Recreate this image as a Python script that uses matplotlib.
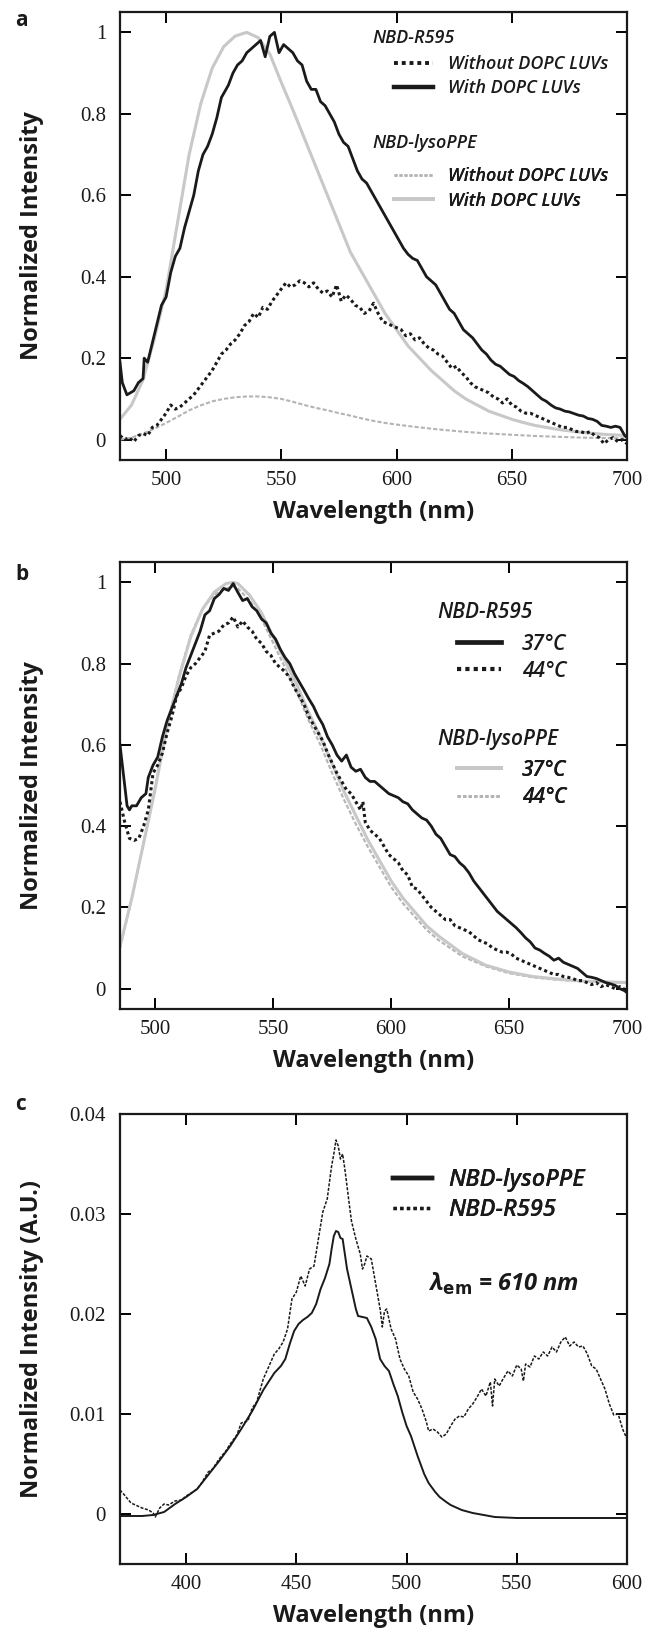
import numpy as np
import matplotlib
matplotlib.use("Agg")
import matplotlib.pyplot as plt
from matplotlib.ticker import MultipleLocator, FuncFormatter

# --- datos ---

# panel a: NBD-R595 con / sin LUVs de DOPC
wl_a_r595_with = [480, 481, 483, 486, 488, 490, 490.5, 492, 495, 498, 500, 502, 504, 506, 508, 510,
                  512, 514, 516, 518, 520, 522, 524, 525, 527, 529, 531, 533, 535, 537, 539, 541,
                  543, 545, 547, 549, 551, 553, 555, 557, 559, 561, 563, 565, 567, 569, 571, 573,
                  575, 577, 579, 581, 583, 585, 587, 589, 591, 593, 595, 597, 599, 601, 603, 605,
                  607, 609, 611, 613, 615, 617, 619, 621, 623, 625, 627, 629, 631, 633, 635, 637,
                  639, 641, 643, 645, 647, 649, 651, 653, 655, 657, 659, 661, 663, 665, 667, 669,
                  671, 673, 675, 677, 679, 681, 683, 685, 687, 689, 691, 693, 695, 697, 699, 700]
int_a_r595_with = [0.19, 0.14, 0.11, 0.12, 0.14, 0.15, 0.20, 0.19, 0.26, 0.33, 0.35, 0.41, 0.45, 0.47, 0.52, 0.56,
                   0.60, 0.66, 0.70, 0.72, 0.75, 0.79, 0.84, 0.85, 0.87, 0.90, 0.92, 0.93, 0.95, 0.96, 0.97, 0.98,
                   0.94, 0.99, 1.00, 0.95, 0.97, 0.96, 0.95, 0.93, 0.92, 0.88, 0.86, 0.86, 0.83, 0.82, 0.80, 0.78,
                   0.75, 0.73, 0.72, 0.69, 0.66, 0.64, 0.63, 0.61, 0.59, 0.57, 0.55, 0.53, 0.51, 0.49, 0.47, 0.455,
                   0.445, 0.44, 0.42, 0.40, 0.39, 0.38, 0.36, 0.34, 0.32, 0.31, 0.29, 0.27, 0.26, 0.25, 0.235, 0.22,
                   0.21, 0.195, 0.185, 0.18, 0.17, 0.16, 0.155, 0.145, 0.138, 0.13, 0.12, 0.11, 0.10, 0.094, 0.085, 0.078,
                   0.075, 0.07, 0.068, 0.064, 0.06, 0.058, 0.052, 0.05, 0.045, 0.035, 0.033, 0.03, 0.033, 0.03, 0.01, 0.005]

wl_a_r595_without = list(range(480, 701, 2))
int_a_r595_without = [0.01, 0.0, 0.005, -0.005, 0.01, 0.015, 0.01, 0.03, 0.035, 0.05,
                      0.065, 0.085, 0.075, 0.08, 0.09, 0.10, 0.11, 0.125, 0.14, 0.155,
                      0.17, 0.19, 0.21, 0.22, 0.235, 0.245, 0.26, 0.28, 0.29, 0.31,
                      0.30, 0.325, 0.32, 0.34, 0.355, 0.37, 0.385, 0.375, 0.38, 0.39,
                      0.385, 0.375, 0.385, 0.37, 0.36, 0.365, 0.35, 0.38, 0.34, 0.355,
                      0.345, 0.33, 0.325, 0.31, 0.315, 0.335, 0.31, 0.29, 0.285, 0.28,
                      0.275, 0.27, 0.255, 0.26, 0.245, 0.25, 0.235, 0.225, 0.22, 0.21,
                      0.205, 0.19, 0.175, 0.18, 0.165, 0.155, 0.14, 0.13, 0.125, 0.12,
                      0.115, 0.105, 0.10, 0.09, 0.10, 0.085, 0.08, 0.07, 0.065, 0.065,
                      0.06, 0.055, 0.05, 0.045, 0.04, 0.035, 0.03, 0.03, 0.025, 0.02,
                      0.02, 0.015, 0.02, 0.01, 0.005, -0.01, 0.0, 0.005, -0.005, 0.0, -0.01]

# panel a: NBD-lysoPPE
wl_a_lyso_with = [480, 485, 490, 495, 500, 505, 510, 515, 520, 525, 530, 535, 540, 545, 550, 555,
                  560, 565, 570, 575, 580, 585, 590, 595, 600, 605, 610, 615, 620, 625, 630, 635,
                  640, 645, 650, 655, 660, 670, 680, 690, 700]
int_a_lyso_with = [0.05, 0.085, 0.147, 0.25, 0.367, 0.534, 0.70, 0.824, 0.912, 0.965, 0.991, 1.0, 0.987, 0.947, 0.877, 0.81,
                   0.74, 0.67, 0.60, 0.53, 0.46, 0.41, 0.36, 0.31, 0.27, 0.23, 0.20, 0.17, 0.145, 0.12, 0.10, 0.085,
                   0.07, 0.06, 0.05, 0.042, 0.035, 0.025, 0.018, 0.013, 0.01]

wl_a_lyso_without = [480, 485, 490, 495, 500, 505, 510, 515, 520, 525, 530, 535, 540, 545, 550, 555,
                     560, 565, 570, 575, 580, 585, 590, 595, 600, 610, 620, 630, 640, 650, 660, 670,
                     680, 690, 700]
int_a_lyso_without = [0.0, 0.005, 0.015, 0.027, 0.041, 0.056, 0.072, 0.084, 0.094, 0.10, 0.104, 0.106, 0.106, 0.104, 0.10, 0.093,
                      0.085, 0.078, 0.072, 0.065, 0.059, 0.052, 0.046, 0.041, 0.037, 0.03, 0.024, 0.019, 0.015, 0.012, 0.009, 0.007,
                      0.005, 0.004, 0.003]

# panel b: 37 C / 44 C
wl_b_r595_37 = [485, 486, 487, 488, 489, 490, 492, 494, 496, 497, 499, 501, 503, 505, 507, 509,
                511, 513, 515, 517, 519, 521, 523, 525, 527, 529, 531, 533, 535, 537, 539, 541,
                543, 545, 547, 549, 551, 553, 555, 557, 559, 561, 563, 565, 567, 569, 571, 573,
                575, 577, 579, 581, 583, 585, 587, 589, 591, 593, 595, 597, 599, 601, 603, 605,
                607, 609, 611, 613, 615, 617, 619, 621, 623, 625, 627, 629, 631, 633, 635, 637,
                639, 641, 643, 645, 647, 649, 651, 653, 655, 657, 659, 661, 663, 665, 667, 669,
                671, 673, 675, 677, 679, 681, 683, 685, 687, 689, 691, 693, 695, 697, 699, 700]
int_b_r595_37 = [0.60, 0.55, 0.50, 0.45, 0.44, 0.45, 0.45, 0.47, 0.48, 0.52, 0.55, 0.57, 0.62, 0.66, 0.69, 0.72,
                 0.75, 0.79, 0.82, 0.85, 0.88, 0.92, 0.93, 0.96, 0.97, 0.985, 0.98, 0.997, 0.975, 0.955, 0.96, 0.94,
                 0.93, 0.91, 0.90, 0.875, 0.86, 0.835, 0.815, 0.80, 0.775, 0.755, 0.735, 0.714, 0.695, 0.67, 0.65, 0.62,
                 0.60, 0.575, 0.56, 0.575, 0.545, 0.535, 0.54, 0.52, 0.51, 0.51, 0.50, 0.49, 0.48, 0.475, 0.47, 0.46,
                 0.455, 0.44, 0.43, 0.42, 0.415, 0.40, 0.38, 0.37, 0.35, 0.33, 0.325, 0.31, 0.30, 0.285, 0.265, 0.25,
                 0.235, 0.22, 0.205, 0.19, 0.18, 0.17, 0.16, 0.15, 0.138, 0.125, 0.115, 0.10, 0.095, 0.087, 0.08, 0.07,
                 0.075, 0.065, 0.06, 0.055, 0.05, 0.04, 0.03, 0.028, 0.025, 0.02, 0.015, 0.012, 0.008, 0.0, -0.005, -0.01]

wl_b_r595_44 = [485, 487, 489, 491, 493, 495, 497, 499, 501, 503, 505, 507, 509, 511, 513, 515,
                517, 519, 521, 523, 525, 527, 529, 531, 533, 535, 537, 539, 541, 543, 545, 547,
                549, 551, 553, 555, 557, 559, 561, 563, 565, 567, 569, 571, 573, 575, 577, 579,
                581, 583, 585, 587, 588, 589, 591, 593, 595, 597, 599, 601, 603, 605, 607, 609,
                611, 613, 615, 617, 619, 621, 623, 625, 627, 629, 631, 633, 635, 637, 639, 641,
                643, 645, 647, 649, 651, 653, 655, 657, 659, 661, 663, 665, 667, 669, 671, 673,
                675, 677, 679, 681, 683, 685, 687, 689, 691, 693, 695, 697, 700]
int_b_r595_44 = [0.46, 0.41, 0.37, 0.365, 0.37, 0.40, 0.44, 0.53, 0.55, 0.58, 0.63, 0.67, 0.72, 0.74, 0.77, 0.79,
                 0.80, 0.815, 0.83, 0.87, 0.875, 0.88, 0.895, 0.90, 0.915, 0.89, 0.905, 0.89, 0.88, 0.86, 0.85, 0.83,
                 0.82, 0.80, 0.79, 0.78, 0.765, 0.74, 0.72, 0.70, 0.67, 0.65, 0.63, 0.61, 0.58, 0.555, 0.53, 0.51,
                 0.49, 0.48, 0.46, 0.44, 0.46, 0.41, 0.39, 0.38, 0.37, 0.35, 0.33, 0.32, 0.31, 0.29, 0.28, 0.25,
                 0.245, 0.23, 0.215, 0.20, 0.19, 0.18, 0.17, 0.17, 0.155, 0.15, 0.145, 0.14, 0.13, 0.12, 0.115, 0.11,
                 0.10, 0.095, 0.09, 0.09, 0.085, 0.075, 0.07, 0.065, 0.06, 0.055, 0.05, 0.045, 0.04, 0.035, 0.035, 0.03,
                 0.028, 0.025, 0.02, 0.02, 0.015, 0.01, 0.015, 0.005, 0.01, 0.005, 0.0, 0.005, -0.005]

wl_b_lyso = [485, 490, 495, 500, 505, 510, 515, 520, 525, 530, 533, 535, 540, 545, 550, 555,
             560, 565, 570, 575, 580, 585, 590, 595, 600, 605, 610, 615, 620, 630, 640, 650,
             660, 670, 680, 690, 700]
int_b_lyso_37 = [0.104, 0.223, 0.358, 0.494, 0.646, 0.765, 0.866, 0.934, 0.976, 0.997, 1.0, 0.997, 0.968, 0.925, 0.866, 0.807,
                 0.748, 0.68, 0.62, 0.553, 0.485, 0.426, 0.367, 0.316, 0.265, 0.223, 0.189, 0.155, 0.13, 0.087, 0.058, 0.041,
                 0.03, 0.024, 0.019, 0.017, 0.015]
int_b_lyso_44 = [0.10, 0.22, 0.36, 0.50, 0.65, 0.77, 0.87, 0.935, 0.97, 0.985, 0.99, 0.985, 0.955, 0.91, 0.85, 0.79,
                 0.73, 0.66, 0.60, 0.53, 0.465, 0.405, 0.35, 0.30, 0.25, 0.21, 0.177, 0.145, 0.12, 0.08, 0.055, 0.038,
                 0.028, 0.022, 0.018, 0.016, 0.014]

# panel c: excitacion, lambda_em = 610 nm
wl_c_lyso = [370, 375, 380, 385, 390, 395, 400, 405, 410, 415, 420, 425, 430, 435, 440, 443,
             445, 447, 449, 451, 453, 455, 457, 459, 461, 463, 465, 466, 467, 468, 469, 470,
             471, 472, 473, 475, 477, 478, 480, 482, 484, 486, 488, 490, 492, 494, 496, 498,
             500, 502, 505, 508, 510, 513, 515, 518, 520, 525, 530, 535, 540, 550, 560, 570,
             580, 590, 600]
int_c_lyso = [-0.0002, -0.0002, -0.0002, -0.0001, 0.0002, 0.001, 0.0017, 0.0025, 0.0039, 0.0053, 0.0068, 0.0085, 0.0103, 0.0124, 0.0141, 0.0148,
              0.0155, 0.017, 0.0183, 0.019, 0.0194, 0.0197, 0.0201, 0.021, 0.0225, 0.0236, 0.025, 0.0265, 0.0278, 0.0283, 0.0282, 0.0276,
              0.0275, 0.026, 0.0245, 0.0225, 0.0205, 0.0198, 0.0197, 0.0196, 0.0187, 0.0175, 0.0155, 0.0148, 0.0143, 0.013, 0.0118, 0.0102,
              0.0088, 0.0078, 0.0058, 0.004, 0.0031, 0.0022, 0.0017, 0.0012, 0.0009, 0.0004, 0.0001, -0.0001, -0.0003, -0.0004, -0.0004, -0.0004,
              -0.0004, -0.0004, -0.0004]

wl_c_r595 = [370, 372, 375, 378, 380, 383, 385, 386, 388, 390, 392, 395, 398, 400, 403, 405,
             407, 410, 412, 415, 418, 420, 423, 425, 428, 430, 432, 435, 437, 440, 442, 444,
             446, 448, 450, 452, 454, 456, 458, 460, 462, 464, 466, 467, 468, 469, 470, 471,
             472, 474, 475, 477, 479, 480, 481, 482, 484, 486, 488, 489, 490, 491, 493, 495,
             497, 499, 501, 503, 505, 507, 509, 510, 512, 514, 516, 518, 520, 522, 524, 526,
             528, 530, 532, 534, 536, 538, 539, 540, 542, 544, 546, 548, 550, 552, 553, 554,
             556, 558, 560, 562, 564, 566, 568, 570, 572, 574, 576, 578, 580, 582, 584, 586,
             588, 590, 592, 594, 596, 598, 600]
int_c_r595 = [0.0024, 0.0019, 0.0011, 0.0008, 0.0006, 0.0004, 0.0001, -0.0003, 0.0006, 0.001, 0.0009, 0.0013, 0.0014, 0.0018, 0.0022, 0.0025,
              0.0031, 0.0042, 0.0045, 0.0055, 0.0063, 0.007, 0.0079, 0.0091, 0.0093, 0.0106, 0.0112, 0.0135, 0.0145, 0.016, 0.0165, 0.0172,
              0.0185, 0.0215, 0.0222, 0.0238, 0.0228, 0.0245, 0.0248, 0.0275, 0.0302, 0.0315, 0.0348, 0.036, 0.0374, 0.0368, 0.0355, 0.036,
              0.0345, 0.031, 0.0293, 0.0275, 0.026, 0.0245, 0.025, 0.0258, 0.0255, 0.023, 0.0205, 0.0187, 0.0203, 0.0205, 0.0185, 0.0175,
              0.0155, 0.0145, 0.0138, 0.0122, 0.0115, 0.0105, 0.0092, 0.0083, 0.0085, 0.0082, 0.0077, 0.008, 0.0088, 0.0095, 0.0098, 0.0097,
              0.0105, 0.011, 0.0117, 0.0125, 0.0118, 0.0132, 0.0108, 0.0135, 0.0128, 0.0136, 0.0143, 0.0138, 0.0149, 0.0145, 0.0133, 0.015,
              0.0147, 0.0158, 0.0155, 0.0162, 0.0158, 0.0167, 0.0162, 0.0172, 0.0177, 0.0168, 0.0172, 0.0167, 0.0168, 0.016, 0.0148, 0.0145,
              0.0135, 0.0125, 0.011, 0.0099, 0.010, 0.0085, 0.0075]

# --- estilo ---
plt.rcParams["font.family"] = ["Liberation Serif", "DejaVu Serif"]
plt.rcParams["font.size"] = 15
plt.rcParams["mathtext.fontset"] = "dejavusans"

BLACK = "#1a1a1a"
GRAY = "#c8c8c8"
GRAY_D = "#b4b4b4"
DOTS = (0, (1, 1))
GDASH = (0, (2, 1))

label_font = {"family": "Open Sans", "weight": "bold", "size": 17}
leg_family = "Open Sans"

fig = plt.figure(figsize=(6.48, 16.29), dpi=100)
L, W = 120 / 648, 507 / 648
ax_a = fig.add_axes([L, 1 - 460 / 1629, W, 448 / 1629])
ax_b = fig.add_axes([L, 1 - 1009 / 1629, W, 447 / 1629])
ax_c = fig.add_axes([L, 1 - 1564 / 1629, W, 450 / 1629])


def style_axes(ax, xlim, ylim, xstep, ystep, ylabel):
    ax.set_xlim(*xlim)
    ax.set_ylim(*ylim)
    ax.xaxis.set_major_locator(MultipleLocator(xstep))
    ax.yaxis.set_major_locator(MultipleLocator(ystep))
    ax.yaxis.set_major_formatter(FuncFormatter(lambda v, p: "%g" % round(v, 4)))
    ax.tick_params(direction="in", top=True, right=True, length=8, width=1.4,
                   labelsize=15, labelcolor=BLACK)
    ax.tick_params(axis="x", pad=8)
    ax.tick_params(axis="y", pad=10)
    for sp in ax.spines.values():
        sp.set_linewidth(1.6)
        sp.set_color(BLACK)
    ax.set_xlabel("Wavelength (nm)", fontdict=label_font, labelpad=7, color=BLACK)
    ax.set_ylabel(ylabel, fontdict=label_font, color=BLACK)
    ax.yaxis.set_label_coords(-0.15, 0.5)


def leg_text(ax, x, y, s, size):
    ax.text(x, y, s, transform=ax.transAxes, ha="left", va="center",
            family=leg_family, style="italic", weight="semibold", size=size, color=BLACK)


def legend(ax, handles, x, y, size, hlen, tpad, lspace, widths, styles=None):
    lg = ax.legend(handles=handles, loc="center left", bbox_to_anchor=(x, y), frameon=False,
                   borderpad=0, borderaxespad=0, handlelength=hlen, handletextpad=tpad,
                   labelspacing=lspace,
                   prop={"family": leg_family, "style": "italic", "weight": "semibold", "size": size})
    for t in lg.get_texts():
        t.set_color(BLACK)
    for i, (ln, w) in enumerate(zip(lg.get_lines(), widths)):
        ln.set_linewidth(w)
        if styles and styles[i] is not None:
            ln.set_linestyle(styles[i])
    ax.add_artist(lg)
    return lg


# ---- panel a ----
a1, = ax_a.plot(wl_a_lyso_without, int_a_lyso_without, color=GRAY_D, lw=1.5, ls=GDASH, label="Without DOPC LUVs")
a2, = ax_a.plot(wl_a_lyso_with, int_a_lyso_with, color=GRAY, lw=2.2, label="With DOPC LUVs")
a3, = ax_a.plot(wl_a_r595_without, int_a_r595_without, color=BLACK, lw=2.2, ls=DOTS, label="Without DOPC LUVs")
a4, = ax_a.plot(wl_a_r595_with, int_a_r595_with, color=BLACK, lw=2.0, label="With DOPC LUVs")
style_axes(ax_a, (480, 700), (-0.05, 1.05), 50, 0.2, "Normalized Intensity")
leg_text(ax_a, 0.498, 0.942, "NBD-R595", 13)
legend(ax_a, [a3, a4], 0.540, 0.857, 13, 2.15, 0.83, 0.35, [2.8, 3.2])
leg_text(ax_a, 0.498, 0.708, "NBD-lysoPPE", 13)
legend(ax_a, [a1, a2], 0.540, 0.606, 13, 2.15, 0.83, 0.35, [1.8, 2.8], [(0, (1.2, 0.8)), None])

# ---- panel b ----
b1, = ax_b.plot(wl_b_lyso, int_b_lyso_44, color=GRAY_D, lw=1.5, ls=GDASH, label="44\u00b0C")
b2, = ax_b.plot(wl_b_lyso, int_b_lyso_37, color=GRAY, lw=2.2, label="37\u00b0C")
b3, = ax_b.plot(wl_b_r595_44, int_b_r595_44, color=BLACK, lw=2.2, ls=DOTS, label="44\u00b0C")
b4, = ax_b.plot(wl_b_r595_37, int_b_r595_37, color=BLACK, lw=2.0, label="37\u00b0C")
style_axes(ax_b, (485, 700), (-0.05, 1.05), 50, 0.2, "Normalized Intensity")
leg_text(ax_b, 0.625, 0.886, "NBD-R595", 15)
legend(ax_b, [b4, b3], 0.665, 0.786, 15, 2.1, 1.0, 0.3, [3.4, 3.0])
leg_text(ax_b, 0.625, 0.602, "NBD-lysoPPE", 15)
legend(ax_b, [b2, b1], 0.665, 0.504, 15, 2.1, 1.0, 0.3, [2.8, 2.0], [None, (0, (1.2, 0.8))])

# ---- panel c ----
c1, = ax_c.plot(wl_c_lyso, int_c_lyso, color=BLACK, lw=1.4, label="NBD-lysoPPE")
c2, = ax_c.plot(wl_c_r595, int_c_r595, color=BLACK, lw=1.1, ls=(0, (2, 1)), label="NBD-R595")
style_axes(ax_c, (370, 600), (-0.005, 0.04), 50, 0.01, "Normalized Intensity (A.U.)")
legend(ax_c, [c1, c2], 0.538, 0.820, 17, 1.65, 0.68, 0.25, [3.2, 2.4], [None, DOTS])
ax_c.text(0.607, 0.623, "\u03bb$_{\\mathbf{em}}$ = 610 nm", transform=ax_c.transAxes,
          ha="left", va="center", family=leg_family, style="italic", weight="bold", size=17, color=BLACK)

# etiquetas de panel
for lab, yy in [("a", 20), ("b", 575), ("c", 1105)]:
    fig.text(15 / 648, 1 - yy / 1629, lab, ha="left", va="center", family="Open Sans",
             weight="bold", size=15, color=BLACK)

fig.savefig("out.png", dpi=100)
